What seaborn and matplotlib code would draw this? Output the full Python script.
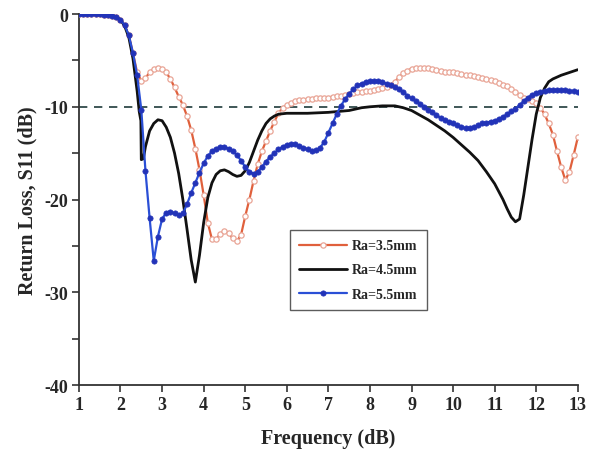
import numpy as np
import pandas as pd
import matplotlib
matplotlib.use("Agg")
import matplotlib.pyplot as plt
import seaborn as sns
from matplotlib.ticker import MultipleLocator

# ---------------- data ----------------
freq = np.linspace(1.0, 13.0, 121)

s11_35 = [0, 0, 0, 0, 0, 0, -0.05, -0.1, -0.2, -0.35,
          -0.6, -1.2, -2.3, -4.2, -6.3, -7.2, -6.9, -6.3, -5.9, -5.8,
          -5.9, -6.3, -7.0, -7.9, -8.9, -9.8, -11.0, -12.5, -14.5, -16.8,
          -19.5, -22.5, -24.3, -24.3, -23.7, -23.4, -23.6, -24.2, -24.5, -23.8,
          -21.8, -20.0, -18.0, -16.2, -14.8, -13.7, -12.6, -11.6, -10.7, -10.1,
          -9.8, -9.6, -9.4, -9.3, -9.25, -9.2, -9.15, -9.1, -9.05, -9.0,
          -9.0, -8.9, -8.85, -8.8, -8.7, -8.6, -8.5, -8.45, -8.4, -8.35,
          -8.3, -8.2, -8.1, -8.0, -7.9, -7.7, -7.3, -6.8, -6.4, -6.1,
          -5.9, -5.8, -5.8, -5.8, -5.8, -5.9, -6.0, -6.1, -6.2, -6.2,
          -6.3, -6.4, -6.5, -6.6, -6.6, -6.7, -6.8, -6.9, -7.0, -7.1,
          -7.2, -7.4, -7.6, -7.8, -8.1, -8.4, -8.7, -9.0, -9.2, -9.4,
          -9.6, -10.1, -10.8, -11.8, -13.0, -14.8, -16.5, -17.9, -17.0, -15.2,
          -13.3]

s11_55 = [0, 0, 0, 0, 0, 0, -0.05, -0.1, -0.2, -0.35,
          -0.6, -1.2, -2.3, -4.2, -6.6, -10.3, -16.9, -22.0, -26.6, -24.0,
          -22.1, -21.4, -21.3, -21.5, -21.7, -21.5, -20.5, -19.3, -18.2, -17.1,
          -16.1, -15.3, -14.8, -14.5, -14.3, -14.3, -14.5, -14.8, -15.2, -15.8,
          -16.5, -17.0, -17.2, -17.0, -16.5, -15.9, -15.4, -15.0, -14.6, -14.3,
          -14.1, -14.0, -14.0, -14.2, -14.4, -14.6, -14.8, -14.7, -14.4, -13.8,
          -12.8, -11.8, -10.8, -9.9, -9.2, -8.6, -8.1, -7.7, -7.5, -7.3,
          -7.2, -7.2, -7.2, -7.3, -7.5, -7.7, -7.9, -8.1, -8.4, -8.8,
          -9.1, -9.4, -9.7, -10.0, -10.3, -10.6, -10.9, -11.2, -11.4, -11.6,
          -11.8, -12.0, -12.2, -12.3, -12.3, -12.2, -12.0, -11.8, -11.7, -11.6,
          -11.5, -11.3, -11.1, -10.8, -10.5, -10.2, -9.8, -9.4, -9.0, -8.7,
          -8.5, -8.4, -8.3, -8.2, -8.2, -8.2, -8.2, -8.2, -8.3, -8.3,
          -8.4]

freq_45 = [1.0, 1.5, 1.7, 1.8, 1.9, 2.0, 2.1, 2.2, 2.3, 2.4,
           2.45, 2.49, 2.5, 2.55, 2.6, 2.7, 2.8, 2.9, 3.0, 3.1,
           3.2, 3.3, 3.4, 3.5, 3.6, 3.7, 3.8, 3.9, 4.0, 4.1,
           4.2, 4.3, 4.4, 4.5, 4.6, 4.7, 4.8, 4.9, 5.0, 5.1,
           5.2, 5.3, 5.4, 5.5, 5.6, 5.7, 5.8, 6.0, 6.5, 7.0,
           7.5, 7.8, 8.0, 8.3, 8.6, 8.8, 9.0, 9.2, 9.4, 9.6,
           9.8, 10.0, 10.2, 10.4, 10.6, 10.8, 11.0, 11.2, 11.3, 11.4,
           11.5, 11.6, 11.7, 11.8, 11.9, 12.0, 12.1, 12.2, 12.3, 12.4,
           12.6, 12.8, 13.0]
s11_45 = [0, 0, -0.1, -0.2, -0.35, -0.6, -1.3, -2.5, -4.8, -8.3,
          -10.5, -11.5, -15.7, -15.6, -14.3, -12.6, -11.8, -11.4, -11.5, -12.2,
          -13.3, -15.0, -17.2, -20.0, -23.2, -26.5, -28.9, -26.0, -22.5, -19.8,
          -18.2, -17.3, -16.9, -16.8, -17.0, -17.3, -17.5, -17.4, -16.9, -16.0,
          -14.8, -13.6, -12.6, -11.8, -11.3, -11.0, -10.8, -10.7, -10.7, -10.6,
          -10.4, -10.1, -10.0, -9.9, -9.9, -10.1, -10.4, -10.9, -11.4, -12.0,
          -12.6, -13.3, -14.1, -14.9, -15.8, -17.0, -18.3, -20.0, -21.0, -21.9,
          -22.4, -22.1, -19.5, -16.5, -13.5, -10.8, -9.0, -8.0, -7.3, -7.0,
          -6.6, -6.3, -6.0]

labels = ["Ra=3.5mm", "Ra=4.5mm", "Ra=5.5mm"]
xticks = list(range(1, 14))
yticks = [0, -10, -20, -30, -40]
threshold = -10

# ---------------- plot ----------------
sns.set_style("ticks")
plt.rcParams["font.family"] = ["Liberation Serif", "DejaVu Serif"]
plt.rcParams["font.weight"] = "bold"
plt.rcParams["axes.unicode_minus"] = False

fig, ax = plt.subplots(figsize=(5.89, 4.56), dpi=100)
fig.subplots_adjust(left=0.134, right=0.981, top=0.967, bottom=0.1535)

ax.axhline(threshold, color="#1f3b3b", lw=1.2, ls=(0, (5, 4)), zorder=1)

df35 = pd.DataFrame({"f": freq, "s": s11_35})
df45 = pd.DataFrame({"f": freq_45, "s": s11_45})
df55 = pd.DataFrame({"f": freq, "s": s11_55})

sns.lineplot(data=df35, x="f", y="s", ax=ax, color="#e0603c", lw=1.6,
             marker="o", markersize=3.8, markerfacecolor="white",
             markeredgecolor="#e9a596", markeredgewidth=0.9,
             label=labels[0], zorder=3)
sns.lineplot(data=df45, x="f", y="s", ax=ax, color="#111111", lw=2.0,
             label=labels[1], zorder=4)
sns.lineplot(data=df55, x="f", y="s", ax=ax, color="#2a4fd6", lw=1.6,
             marker="o", markersize=3.8, markerfacecolor="#2233b8",
             markeredgecolor="#2233b8", markeredgewidth=0.5,
             label=labels[2], zorder=5)

ax.set_xlim(1, 13)
ax.set_ylim(-40, 0)
ax.set_xticks(xticks)
ax.set_yticks(yticks)
ax.yaxis.set_minor_locator(MultipleLocator(5))
ax.tick_params(axis="both", which="both", direction="out", length=5,
               width=1.2, color="#333333", labelsize=13, pad=3)
for lbl in ax.get_xticklabels() + ax.get_yticklabels():
    lbl.set_fontweight("bold")

ax.set_xlabel("Frequency (dB)", fontsize=14.5, fontweight="bold", labelpad=11)
ax.set_ylabel("Return Loss, S11 (dB)", fontsize=14.5, fontweight="bold", labelpad=5)

for side in ["top", "right"]:
    ax.spines[side].set_visible(False)
for side in ["left", "bottom"]:
    ax.spines[side].set_linewidth(1.3)
    ax.spines[side].set_color("#333333")

leg = ax.legend(loc="upper left", bbox_to_anchor=(0.423, 0.418), frameon=True,
                fancybox=False, edgecolor="#333333", fontsize=10,
                handlelength=3.4, labelspacing=0.8, borderpad=0.68,
                handletextpad=0.4, borderaxespad=0)
leg.get_frame().set_linewidth(1.0)
for t in leg.get_texts():
    t.set_fontweight("bold")

fig.savefig("out.png", dpi=100)
